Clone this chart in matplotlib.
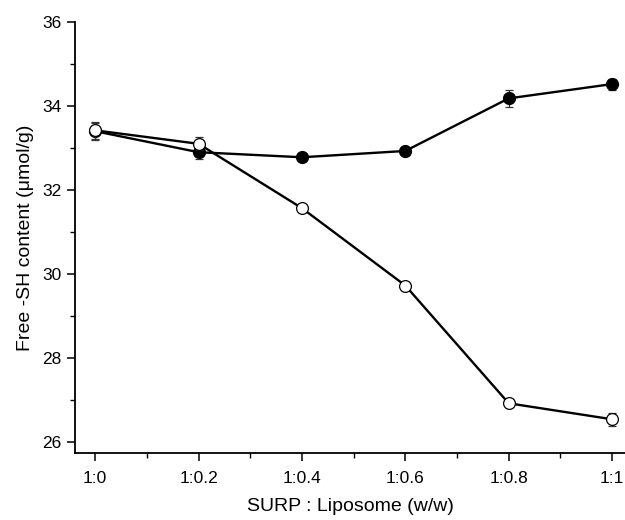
import matplotlib.pyplot as plt
import numpy as np

plt.rcParams["font.family"] = ["Liberation Sans", "DejaVu Sans"]

ratios = ["1:0", "1:0.2", "1:0.4", "1:0.6", "1:0.8", "1:1"]
x_vals = [0.0, 0.2, 0.4, 0.6, 0.8, 1.0]

filled_mean = [33.40, 32.90, 32.78, 32.93, 34.18, 34.52]
filled_err = [0.20, 0.16, 0.06, 0.10, 0.20, 0.13]

open_mean = [33.42, 33.10, 31.57, 29.73, 26.93, 26.55]
open_err = [0.20, 0.15, 0.10, 0.08, 0.10, 0.15]

fig = plt.figure(figsize=(6.25, 5.2), dpi=100)
ax = fig.add_axes([0.12, 0.129, 0.88, 0.829])

ax.errorbar(x_vals, filled_mean, yerr=filled_err, color="black", lw=1.7,
            marker="o", ms=8.5, mfc="black", mec="black",
            ecolor="#333333", elinewidth=0.9, capsize=3, capthick=0.9, zorder=3)
ax.errorbar(x_vals, open_mean, yerr=open_err, color="black", lw=1.7,
            marker="o", ms=8.5, mfc="white", mec="black", mew=0.9,
            ecolor="#333333", elinewidth=0.9, capsize=3, capthick=0.9, zorder=4)

ax.set_xlim(-0.039, 1.025)
ax.set_ylim(25.75, 36)
ax.set_xticks(x_vals, ratios)
ax.set_xticks(np.arange(0.1, 1.0, 0.2), minor=True)
ax.set_yticks([26, 28, 30, 32, 34, 36])
ax.set_yticks([27, 29, 31, 33, 35], minor=True)

for side in ["top", "right"]:
    ax.spines[side].set_visible(False)
for side in ["left", "bottom"]:
    ax.spines[side].set_linewidth(1.3)

ax.tick_params(which="major", direction="out", length=6, width=1.1,
               labelsize=12.5)
ax.tick_params(axis="x", which="major", pad=7)
ax.tick_params(axis="y", which="major", pad=4)
ax.tick_params(which="minor", direction="out", length=3.5, width=1.0)

ax.set_xlabel("SURP : Liposome (w/w)", fontsize=14, labelpad=9)
ax.set_ylabel("Free -SH content (\u03bcmol/g)", fontsize=14, labelpad=6)

fig.savefig("out.png", dpi=100)
